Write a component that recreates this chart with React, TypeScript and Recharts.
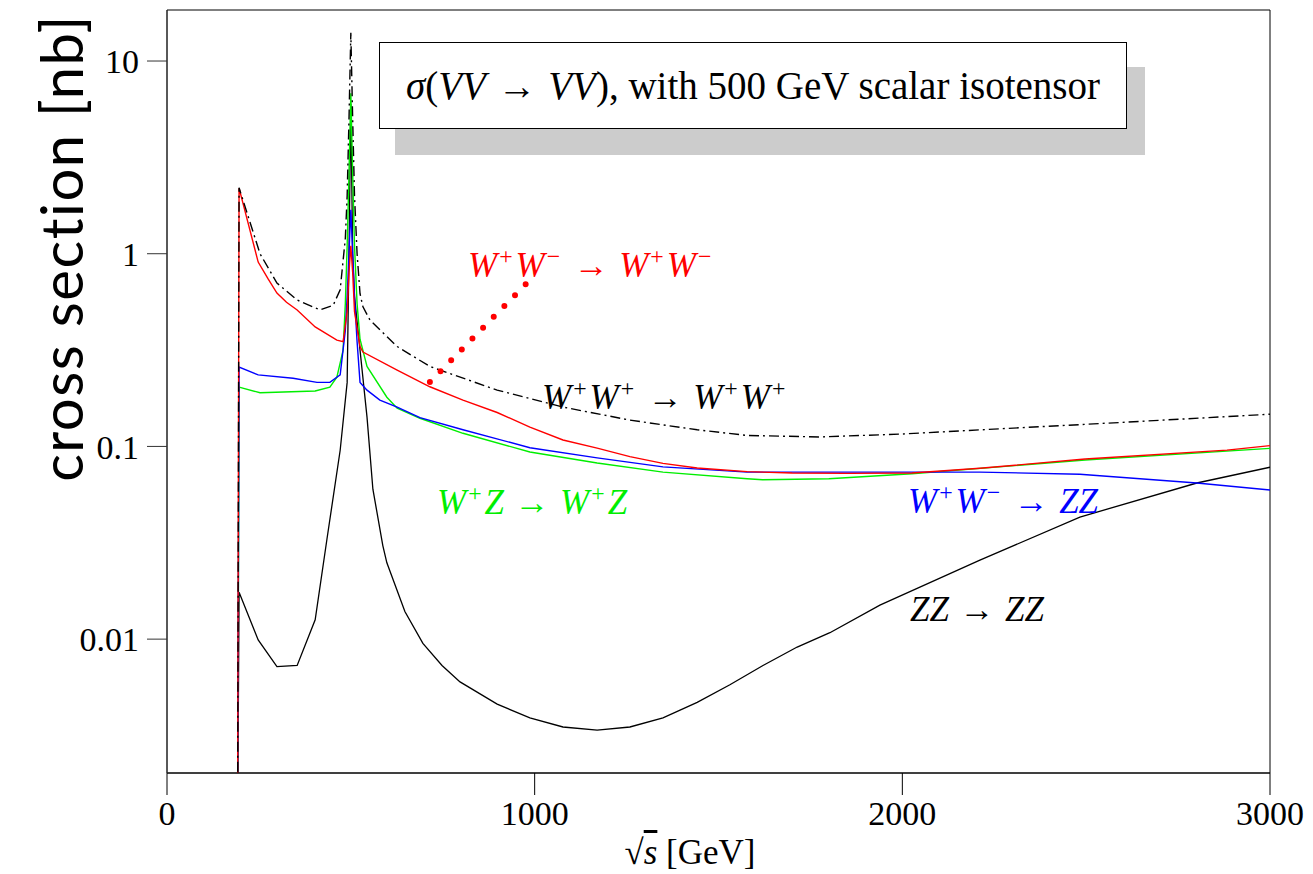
import React from "react";
import { LineChart, Line, XAxis, YAxis, ReferenceArea } from "recharts";

// sqrt(s) in GeV, sigma in nb
const wwX = [192, 196, 248, 275, 299, 325, 354, 403, 462, 479, 490, 495, 500, 505, 510, 525, 533, 626, 715, 805, 898, 987, 1077, 1170, 1259, 1349, 1442, 1578, 1700, 1850, 2026, 2211, 2497, 2883, 3000];
const wwSigma = [0.001, 2.19, 0.905, 0.74, 0.625, 0.56, 0.511, 0.417, 0.356, 0.35, 0.5, 0.8, 1.1, 0.8, 0.5, 0.33, 0.309, 0.249, 0.204, 0.174, 0.15, 0.126, 0.108, 0.098, 0.0886, 0.0817, 0.0773, 0.074, 0.0728, 0.0725, 0.0728, 0.077, 0.086, 0.0957, 0.101];

const wpwpX = [192, 196, 253, 299, 354, 416, 452, 471, 485, 490, 495, 500, 505, 510, 517, 525, 533, 552, 626, 715, 898, 1077, 1259, 1442, 1578, 1776, 2000, 2214, 2589, 3000];
const wpwpSigma = [0.001, 2.2, 1.0, 0.705, 0.575, 0.511, 0.54, 0.65, 1.2, 2.0, 5.0, 14, 5.0, 2.0, 1.0, 0.62, 0.53, 0.453, 0.33, 0.26, 0.196, 0.16, 0.137, 0.122, 0.114, 0.112, 0.116, 0.122, 0.133, 0.147];

const wwzzX = [192, 196, 248, 343, 408, 443, 471, 485, 490, 495, 500, 505, 510, 517, 525, 544, 579, 626, 688, 805, 987, 1170, 1349, 1578, 1939, 2211, 2483, 2801, 3000];
const wwzzSigma = [0.001, 0.258, 0.235, 0.226, 0.215, 0.215, 0.235, 0.4, 0.6, 1.0, 1.69, 1.0, 0.6, 0.35, 0.215, 0.196, 0.174, 0.16, 0.141, 0.122, 0.0985, 0.0872, 0.0783, 0.0736, 0.0736, 0.0736, 0.0717, 0.0646, 0.0594];

const wzX = [192, 196, 253, 403, 443, 462, 479, 485, 490, 495, 500, 505, 510, 517, 525, 544, 598, 626, 688, 805, 987, 1170, 1349, 1578, 1620, 1800, 2026, 2497, 3000];
const wzSigma = [0.001, 0.203, 0.19, 0.194, 0.203, 0.229, 0.316, 0.55, 1.1, 2.6, 6.8, 2.6, 1.1, 0.55, 0.36, 0.26, 0.18, 0.158, 0.14, 0.117, 0.0936, 0.082, 0.0736, 0.068, 0.0672, 0.068, 0.0722, 0.085, 0.0977];

const zzX = [192, 196, 248, 299, 354, 403, 435, 471, 490, 495, 500, 505, 510, 525, 544, 560, 587, 598, 647, 696, 748, 797, 898, 987, 1077, 1170, 1259, 1349, 1442, 1531, 1621, 1714, 1803, 1939, 2211, 2483, 2801, 3000];
const zzSigma = [0.001, 0.0175, 0.0099, 0.0072, 0.0073, 0.0126, 0.033, 0.0955, 0.215, 1.0, 6.0, 1.0, 0.6, 0.316, 0.142, 0.06, 0.0306, 0.0249, 0.0139, 0.0095, 0.0073, 0.006, 0.0046, 0.0039, 0.0035, 0.00337, 0.0035, 0.0039, 0.0047, 0.0058, 0.0073, 0.0091, 0.0108, 0.015, 0.0257, 0.043, 0.0646, 0.078];

// dotted pointer from the W+W- label to its curve
const leaderX = [715, 979];
const leaderSigma = [0.216, 0.705];

const xTicks = [0, 1000, 2000, 3000];
const yTicks = [0.01, 0.1, 1, 10];
const yDomain = [0.00202, 18.4];

const toPoints = (xs: number[], ys: number[]) => xs.map((x, i) => ({ x, y: ys[i] }));

const serif = "'Liberation Serif', 'DejaVu Serif', serif";
const tickStyle = { fontSize: 34, fill: "#000", fontFamily: serif };

function W({ s }: { s: string }) {
  return (
    <>
      <i>W</i>
      <sup style={{ fontSize: "0.68em", fontStyle: "normal", verticalAlign: "0.55em", margin: "0 3px 0 2px" }}>{s}</sup>
    </>
  );
}

const Arrow = () => <span style={{ margin: "0 0.3em" }}>→</span>;

function Tag({ left, top, color, children }: { left: number; top: number; color: string; children: React.ReactNode }) {
  return (
    <div
      style={{
        position: "absolute", left, top, color, fontFamily: serif, fontSize: 35,
        lineHeight: "36px", whiteSpace: "nowrap",
      }}
    >
      {children}
    </div>
  );
}

export default function App() {
  return (
    <div style={{ position: "absolute", left: 0, top: 0, width: 1313, height: 874, background: "#fff" }}>
      <LineChart width={1313} height={874} margin={{ top: 10, right: 43, bottom: 0, left: 0 }}>
        <XAxis
          type="number"
          dataKey="x"
          domain={[0, 3000]}
          ticks={xTicks}
          allowDataOverflow
          height={101}
          tickSize={22}
          tickMargin={6}
          tick={tickStyle}
          stroke="#000"
        />
        <YAxis
          type="number"
          dataKey="y"
          scale="log"
          domain={yDomain}
          ticks={yTicks}
          allowDataOverflow
          width={167}
          tickSize={20}
          tickMargin={8}
          tick={tickStyle}
          tickFormatter={(v: number) => String(v)}
          stroke="#333"
        />
        <ReferenceArea x1={0} x2={3000} y1={yDomain[0]} y2={yDomain[1]} fill="none" stroke="#000" strokeWidth={1} />
        <Line data={toPoints(zzX, zzSigma)} dataKey="y" stroke="#000" strokeWidth={1.3} dot={false} isAnimationActive={false} />
        <Line data={toPoints(wzX, wzSigma)} dataKey="y" stroke="#00ee00" strokeWidth={1.4} dot={false} isAnimationActive={false} />
        <Line data={toPoints(wwzzX, wwzzSigma)} dataKey="y" stroke="#0000ff" strokeWidth={1.4} dot={false} isAnimationActive={false} />
        <Line data={toPoints(wwX, wwSigma)} dataKey="y" stroke="#ff0000" strokeWidth={1.4} dot={false} isAnimationActive={false} />
        <Line data={toPoints(wpwpX, wpwpSigma)} dataKey="y" stroke="#000" strokeWidth={1.4} strokeDasharray="10 4 2 4" dot={false} isAnimationActive={false} />
        <Line data={toPoints(leaderX, leaderSigma)} dataKey="y" stroke="#ff0000" strokeWidth={6} strokeLinecap="round" strokeDasharray="0 15.2" dot={false} isAnimationActive={false} />
      </LineChart>

      {/* title box with grey shadow */}
      <div style={{ position: "absolute", left: 395, top: 67, width: 750, height: 88, background: "#cccccc" }} />
      <div
        style={{
          position: "absolute", left: 379, top: 42, width: 746, height: 85, background: "#fff",
          border: "1.5px solid #000", display: "flex", alignItems: "center", justifyContent: "center",
          fontFamily: serif, fontSize: 39, whiteSpace: "nowrap",
        }}
      >
        <span><i>σ</i>(<i>VV</i><Arrow /><i>VV</i>), with 500 GeV scalar isotensor</span>
      </div>

      <Tag left={468} top={238} color="#ff0000"><W s="+" /><W s="−" /><Arrow /><W s="+" /><W s="−" /></Tag>
      <Tag left={542} top={370} color="#000"><W s="+" /><W s="+" /><Arrow /><W s="+" /><W s="+" /></Tag>
      <Tag left={437} top={475} color="#00ee00"><W s="+" /><i>Z</i><Arrow /><W s="+" /><i>Z</i></Tag>
      <Tag left={908} top={474} color="#0000ff"><W s="+" /><W s="−" /><Arrow /><i>ZZ</i></Tag>
      <Tag left={910} top={592} color="#000"><i>ZZ</i><Arrow /><i>ZZ</i></Tag>

      {/* axis titles */}
      <div
        style={{
          position: "absolute", left: 60, top: 248, transform: "translate(-50%, -50%) rotate(-90deg)",
          fontFamily: "Lato, 'Open Sans', sans-serif", fontSize: 58, letterSpacing: 1.5,
          whiteSpace: "nowrap", color: "#000",
        }}
      >
        cross section [nb]
      </div>
      <div
        style={{
          position: "absolute", left: 690, top: 853, transform: "translate(-50%, -50%)",
          fontFamily: serif, fontSize: 35, whiteSpace: "nowrap",
        }}
      >
        √<span style={{ textDecoration: "overline", fontStyle: "italic" }}>s</span> [GeV]
      </div>
    </div>
  );
}
